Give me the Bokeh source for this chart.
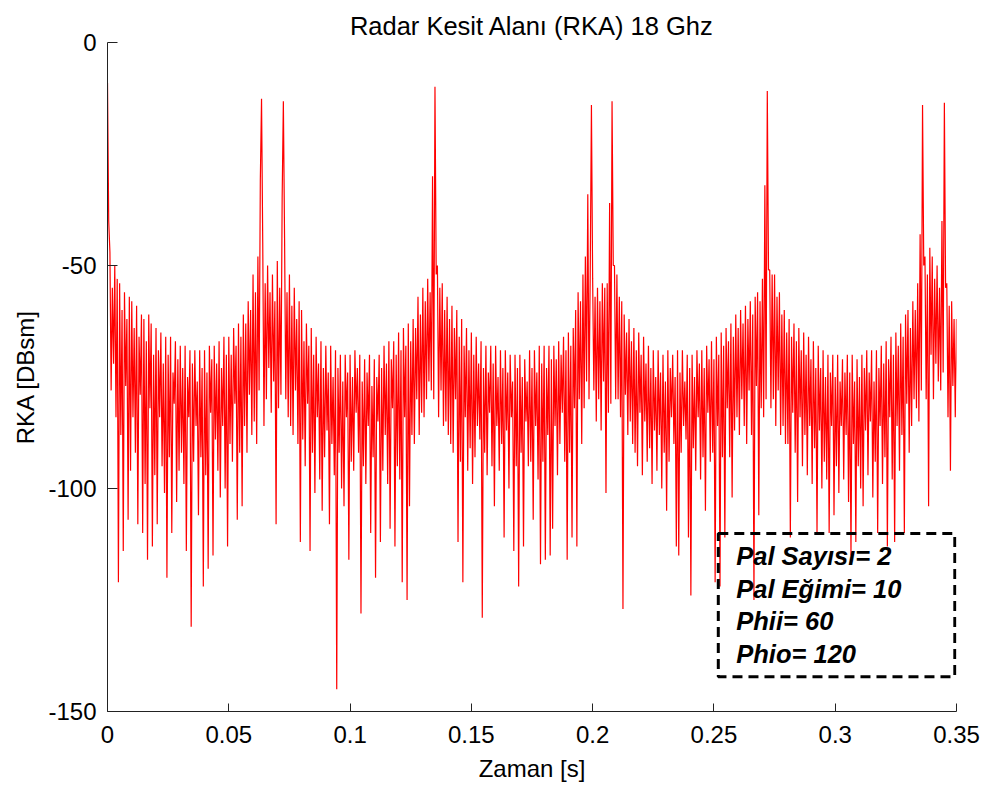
import numpy as np
from bokeh.plotting import figure
from bokeh.models import Range1d, FixedTicker, NumeralTickFormatter, BoxAnnotation, ColumnDataSource
from bokeh.core.properties import value
from bokeh.embed import file_html
from bokeh.resources import INLINE

# ---- data ----
dt = 0.0005  # sampling step of the time axis [s]
rka = [
    -9, -40, -47, -78, -55, -72, -50, -84, -53, -121,
    -54, -88, -60, -114, -56, -77, -62, -107, -57, -96,
    -58, -84, -64, -92, -59, -108, -66, -79, -61, -110,
    -62, -99, -67, -116, -61, -82, -63, -113, -70, -97,
    -64, -108, -69, -84, -65, -95, -72, -101, -66, -120,
    -70, -93, -66, -110, -74, -81, -67, -103, -71, -96,
    -68, -92, -73, -99, -68, -114, -75, -84, -69, -131,
    -72, -94, -69, -86, -76, -106, -69, -93, -73, -122,
    -69, -97, -74, -118, -68, -83, -71, -115, -68, -89,
    -72, -96, -67, -102, -73, -86, -66, -100, -70, -113,
    -66, -90, -70, -94, -64, -81, -68, -107, -63, -92,
    -66, -104, -61, -86, -63, -92, -58, -79, -60, -88,
    -52, -85, -56, -90, -48, -78, -31, -12.6, -45, -86,
    -54, -80, -50, -73, -56, -83, -52, -76, -58, -108,
    -49, -82, -55, -79, -35, -13.2, -44, -80, -56, -84,
    -52, -86, -59, -88, -55, -78, -62, -90, -58, -112,
    -60, -89, -67, -95, -63, -81, -68, -114, -64, -92,
    -70, -101, -66, -84, -72, -98, -67, -105, -73, -93,
    -68, -87, -74, -108, -68, -90, -75, -97, -69, -145,
    -73, -92, -70, -100, -76, -104, -70, -84, -74, -116,
    -70, -94, -75, -96, -69, -83, -73, -92, -70, -128,
    -76, -95, -71, -99, -74, -86, -70, -110, -77, -93,
    -71, -120, -75, -85, -70, -112, -73, -96, -68, -88,
    -72, -99, -67, -109, -71, -82, -67, -113, -70, -95,
    -65, -98, -69, -121, -64, -84, -68, -125, -63, -104,
    -67, -88, -62, -90, -64, -80, -57, -88, -61, -83,
    -55, -84, -58, -80, -53, -76, -56, -78, -30, -80,
    -9.9, -52, -50, -84, -55, -78, -54, -86, -60, -85,
    -57, -88, -62, -90, -59, -92, -64, -80, -60, -112,
    -66, -94, -62, -121, -68, -84, -64, -96, -69, -91,
    -65, -99, -70, -93, -66, -86, -72, -89, -67, -129,
    -73, -92, -68, -97, -74, -83, -68, -95, -72, -104,
    -68, -86, -75, -96, -69, -90, -73, -111, -69, -87,
    -74, -100, -70, -84, -76, -114, -70, -95, -73, -122,
    -70, -92, -75, -113, -71, -85, -76, -95, -69, -94,
    -73, -107, -69, -86, -74, -98, -68, -117, -72, -94,
    -68, -116, -73, -88, -68, -115, -71, -109, -68, -86,
    -71, -97, -67, -90, -70, -83, -66, -94, -69, -116,
    -65, -92, -68, -111, -64, -82, -60, -113, -56, -80,
    -58, -90, -52, -82, -48, -76, -34, -80, -52, -14,
    -53, -78, -57, -85, -55, -80, -58, -87, -54, -76,
    -55, -101, -54, -83, -36, -81, -13.2, -50, -50, -80,
    -52, -80, -57, -84, -58, -127, -61, -79, -65, -88,
    -62, -85, -67, -90, -64, -92, -69, -95, -65, -83,
    -70, -97, -66, -85, -72, -94, -68, -91, -73, -99,
    -69, -87, -75, -96, -69, -88, -74, -100, -70, -92,
    -76, -105, -69, -94, -73, -84, -70, -90, -75, -113,
    -69, -115, -74, -92, -69, -86, -76, -89, -70, -111,
    -73, -124, -70, -91, -75, -96, -69, -84, -72, -98,
    -69, -93, -73, -105, -68, -83, -71, -94, -67, -92,
    -71, -121, -66, -86, -70, -122, -65, -93, -68, -111,
    -64, -82, -67, -93, -63, -102, -66, -87, -61, -84,
    -64, -88, -60, -80, -63, -86, -59, -90, -62, -78,
    -58, -88, -61, -125, -57, -77, -56, -106, -58, -82,
    -53, -84, -32, -80, -10.9, -51, -51, -82, -52, -80,
    -52, -86, -57, -78, -56, -88, -61, -86, -60, -90,
    -65, -90, -62, -111, -66, -83, -63, -92, -67, -103,
    -64, -84, -69, -95, -65, -88, -70, -97, -66, -86,
    -71, -99, -67, -91, -73, -110, -68, -87, -73, -100,
    -69, -94, -75, -98, -70, -110, -74, -86, -70, -106,
    -75, -95, -70, -101, -76, -86, -71, -98, -74, -88,
    -70, -103, -74, -115, -70, -90, -76, -112, -71, -95,
    -75, -100, -70, -104, -73, -87, -69, -97, -74, -85,
    -69, -102, -76, -94, -69, -110, -73, -86, -68, -99,
    -72, -93, -67, -113, -71, -84, -66, -98, -70, -112,
    -65, -86, -68, -96, -63, -88, -66, -110, -61, -81,
    -60, -92, -64, -86, -58, -80, -60, -82, -54, -85,
    -43, -78, -14, -50, -48, -80, -52, -104, -46, -70,
    -48, -80, -53, -72, -50, -76, -55, -78, -40, -74,
    -13.5, -55, -54, -84, -59, -96, -58, -77, -62, -84,
    -62, -80,
]
x_ticks = [0, 0.05, 0.1, 0.15, 0.2, 0.25, 0.3, 0.35]
y_ticks = [-150, -100, -50, 0]
info_lines = ["Pal Sayısı= 2", "Pal Eğimi= 10", "Phii= 60", "Phio= 120"]
title_text = "Radar Kesit Alanı (RKA) 18 Ghz"

# ---- layout constants ----
info_x = 0.2592
info_y = [-115.2, -122.6, -129.8, -137.0]
box_l, box_r, box_t, box_b = 0.2518, 0.3493, -110.1, -142.2

t = np.arange(len(rka)) * dt
src = ColumnDataSource(dict(t=t, rka=rka))

FONT = "Liberation Sans"

p = figure(width=980, height=789, output_backend="svg", toolbar_location=None,
           x_range=Range1d(0, 0.35), y_range=Range1d(-150, 0), title=title_text)
p.min_border_left = 107
p.min_border_right = 24
p.min_border_top = 42
p.min_border_bottom = 78
p.outline_line_color = None
p.background_fill_color = "white"
p.border_fill_color = "white"
p.grid.visible = False

p.title.text_font = FONT
p.title.text_font_size = "25.5px"
p.title.text_font_style = "normal"
p.title.text_color = "black"
p.title.align = "center"
p.title.vertical_align = "top"
p.title.standoff = 2

p.line("t", "rka", source=src, line_color="#ff0000", line_width=1.2)

for ax in (p.xaxis[0], p.yaxis[0]):
    ax.major_label_text_font = FONT
    ax.major_label_text_font_size = "24px"
    ax.major_label_text_color = "black"
    ax.axis_label_text_font = FONT
    ax.axis_label_text_font_size = "24px"
    ax.axis_label_text_font_style = "normal"
    ax.axis_label_text_color = "black"
    ax.axis_line_color = "#222222"
    ax.major_tick_line_color = "#222222"
    ax.major_tick_out = 0
    ax.minor_tick_in = 0
    ax.minor_tick_out = 0

p.xaxis.ticker = FixedTicker(ticks=x_ticks)
p.xaxis.formatter = NumeralTickFormatter(format="0.[00]")
p.xaxis.major_tick_in = 8
p.xaxis.major_label_standoff = 14
p.xaxis.axis_label = "Zaman [s]"
p.xaxis.axis_label_standoff = 9

p.yaxis.ticker = FixedTicker(ticks=y_ticks)
p.yaxis.formatter = NumeralTickFormatter(format="0")
p.yaxis.major_tick_in = 10
p.yaxis.major_label_standoff = 11
p.yaxis.axis_label = "RKA [DBsm]"
p.yaxis.axis_label_standoff = 6

box = BoxAnnotation(left=box_l, right=box_r, top=box_t, bottom=box_b,
                    fill_alpha=0, line_color="black", line_alpha=1.0,
                    line_width=3, line_dash="10 6")
p.add_layout(box)

p.text(x=[info_x] * len(info_lines), y=info_y, text=info_lines,
       text_font=value(FONT), text_font_size="25.5px", text_font_style="bold italic",
       text_color="black", text_baseline="middle", text_align="left")

open("out.html", "w").write(file_html(p, INLINE))
